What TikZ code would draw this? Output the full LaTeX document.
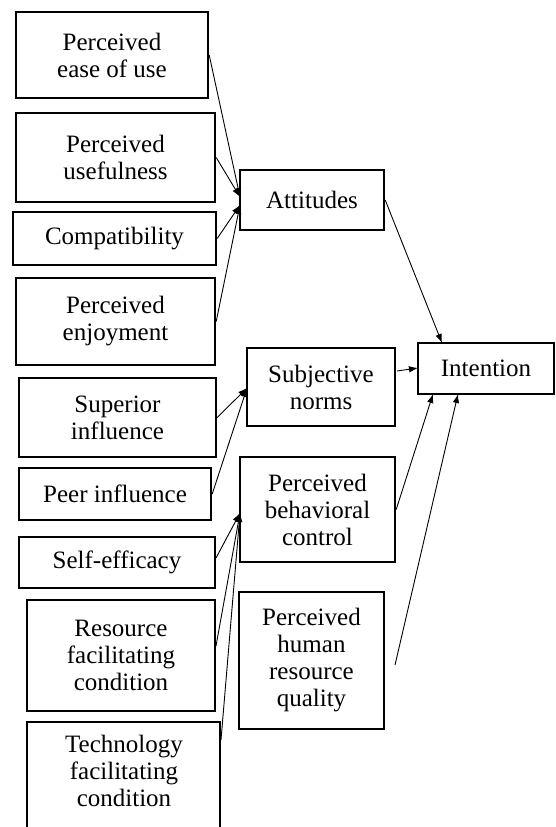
\documentclass[tikz,border=0pt]{standalone}
\usepackage{fontspec}
\setmainfont{Liberation Serif}
\usetikzlibrary{arrows.meta}
\begin{document}
\begin{tikzpicture}[x=1pt,y=-1pt,
  box/.style={draw, line width=2.4pt, rectangle, inner sep=0pt, align=center, font=\fontsize{25}{27}\selectfont},
  txt/.style={inner sep=0pt, align=center, font=\fontsize{25}{27}\selectfont},
  arr/.style={line width=0.9pt, -{Latex[length=9pt,width=6.5pt]}}]
\clip (0,0) rectangle (555,827);
% left column
\node[box, minimum width=192pt, minimum height=86pt] (peou) at (112,55) {Perceived\\ease of use};
\node[box, minimum width=199pt, minimum height=89pt] (pu) at (115.5,157.5) {Perceived\\usefulness};
\node[box, minimum width=203pt, minimum height=53pt] (comp) at (114.5,238.5) {Compatibility};
\node[box, minimum width=199pt, minimum height=87pt] (pe) at (115.5,321.5) {Perceived\\enjoyment};
\node[box, minimum width=197pt, minimum height=79pt] (sup) at (117.5,417.5) {Superior\\influence};
\node[box, minimum width=192pt, minimum height=52pt] (peer) at (115,494) {Peer influence};
\node[box, minimum width=196pt, minimum height=51pt] (se) at (117,562.5) {Self-efficacy};
\node[box, minimum width=188pt, minimum height=111pt] (rfc) at (121,655.5) {Resource\\facilitating\\condition};
\node[box, minimum width=193pt, minimum height=138pt] (tfc) at (123.5,791) {};
\node[txt] (tfctext) at (124,771) {Technology\\facilitating\\condition};
% middle column
\node[box, minimum width=144pt, minimum height=60pt] (att) at (312,200) {Attitudes};
\node[box, minimum width=148pt, minimum height=78pt] (sn) at (321,387) {Subjective\\norms};
\node[box, minimum width=155pt, minimum height=105pt] (pbc) at (317.5,509.5) {Perceived\\behavioral\\control};
\node[box, minimum width=145pt, minimum height=137pt] (phrq) at (311.5,660.5) {Perceived\\human\\resource\\quality};
% right
\node[box, minimum width=136pt, minimum height=51pt] (int) at (486,368.5) {Intention};
% connector end points
\coordinate (attA) at (240,197);
\coordinate (attB) at (240,205);
\coordinate (snin) at (247,388);
\coordinate (pbcin) at (240,513);
\coordinate (intA) at (442,343);
\coordinate (intB) at (433,394);
\coordinate (intC) at (458,394);
\coordinate (snout) at (397,371);
\coordinate (intW) at (418,368);
\coordinate (phrqout) at (395,665);
\coordinate (tfcout) at (221,740);
\coordinate (rfcout) at (216,646);
\coordinate (seout) at (216,558);
% connectors
\draw[arr] (peou.east) -- (attA);
\draw[arr] (pu.east) -- (attA);
\draw[arr] (comp.east) -- (attB);
\draw[arr] (pe.east) -- (attB);
\draw[arr] (sup.east) -- (snin);
\draw[arr] (peer.east) -- (snin);
\draw[arr] (seout) -- (pbcin);
\draw[arr] (rfcout) -- (pbcin);
\draw[arr] (tfcout) -- (pbcin);
\draw[arr] (att.east) -- (intA);
\draw[arr] (snout) -- (intW);
\draw[arr] (pbc.east) -- (intB);
\draw[arr] (phrqout) -- (intC);
\end{tikzpicture}
\end{document}
